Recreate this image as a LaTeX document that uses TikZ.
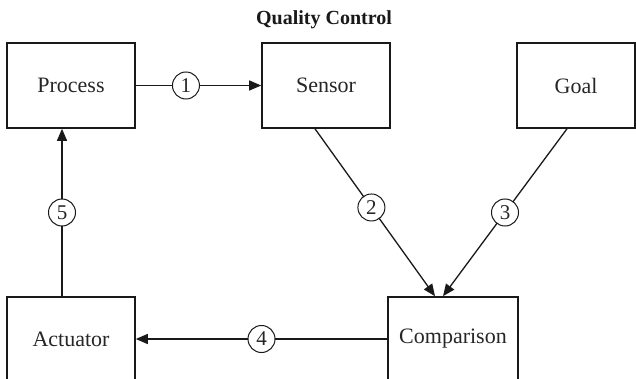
\documentclass[tikz,border=0pt]{standalone}
\usepackage{fontspec}
\setmainfont{Liberation Serif}
\usetikzlibrary{arrows.meta,calc}
\begin{document}
\begin{tikzpicture}[x=1pt,y=-1pt,
  box/.style={draw=black!90,line width=1.6pt,minimum height=85pt,inner sep=0pt,font=\fontsize{22}{26}\selectfont,text=black!85},
  conn/.style={line width=1.3pt,draw=black!90,-{Triangle[length=12pt,width=10pt]}},
  numc/.style={circle,draw=black!90,line width=1pt,fill=white,minimum size=27pt,inner sep=0pt,font=\fontsize{21}{24}\selectfont,text=black!85}]
\useasboundingbox (0,0) rectangle (636,379);
\clip (0,0) rectangle (636,379);
\fill[white] (0,0) rectangle (636,379);
\node[font=\bfseries\fontsize{20}{24}\selectfont,text=black!90] (title) at (324,20) {Quality Control};
\node[box,minimum width=128pt] (process) at (71,85.5) {Process};
\node[box,minimum width=128pt] (sensor) at (326,85.5) {Sensor};
\node[box,minimum width=118pt] (goal) at (576,85.5) {Goal};
\node[box,minimum width=128pt,minimum height=84pt] (actuator) at (71,339) {Actuator};
\node[box,minimum width=130pt,minimum height=84pt] (comparison) at (453,339) {Comparison};
\draw[conn] (process) -- node[numc,pos=0.40]{1} (sensor);
\draw[conn] ($(sensor.south)+(-11,0)$) -- node[numc,pos=0.47]{2} ($(comparison.north)+(-18,0)$);
\draw[conn] ($(goal.south)+(-9,0)$) -- node[numc,pos=0.50]{3} ($(comparison.north)+(-10,0)$);
\draw[conn] (comparison) -- node[numc,pos=0.50]{4} (actuator);
\draw[conn] ($(actuator.north)+(-9,0)$) -- node[numc,pos=0.50]{5} ($(process.south)+(-9,0)$);
\end{tikzpicture}
\end{document}
